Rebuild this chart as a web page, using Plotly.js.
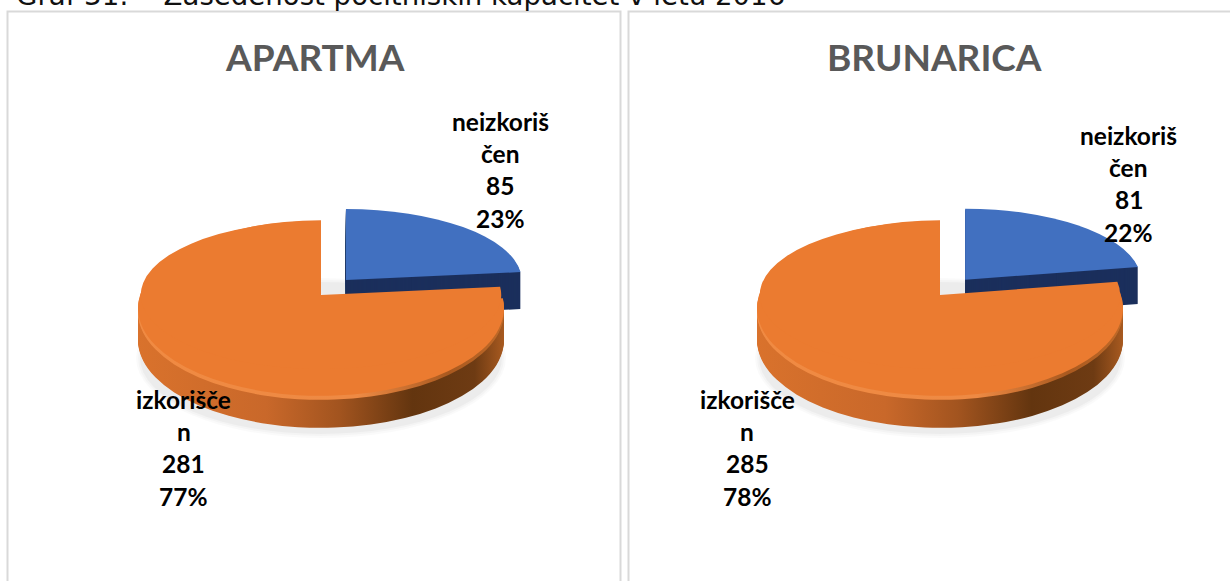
<!DOCTYPE html>
<html><head><meta charset="utf-8">
<script src="https://cdn.plot.ly/plotly-3.0.1.min.js"></script>
<style>html,body{margin:0;padding:0;background:#fff;overflow:hidden}#c{width:1230px;height:581px}</style>
</head><body><div id="c"></div>
<script>
// ---- data ----
const captionText = "Graf 31:    Zasedenost počitniških kapacitet v letu 2016";
const chartTitles = ["APARTMA", "BRUNARICA"];
const categories = ["neizkoriščen", "izkoriščen"];
const apartmaValues = [85, 281];
const brunaricaValues = [81, 285];
const apartmaLabels = [["neizkoriš","čen","85","23%"], ["izkorišče","n","281","77%"]];
const brunaricaLabels = [["neizkoriš","čen","81","22%"], ["izkorišče","n","285","78%"]];

// ---- layout constants (pixels) ----
const W = 1230, H = 581, SQUASH = 0.48, DEPTH = 32, BLUE_DEPTH = 37, R = 183;
const px = x => x / W, py = y => 1 - y / H;
const panels = [
  {x0:7.5, x1:620.5, cx:321, cy:308, titleX:315, blueDx:5, values:apartmaValues, labels:apartmaLabels,
   labelX:[500,183.5], labelY:[121.5,399.5]},
  {x0:628.5, x1:1240, cx:940, cy:308, titleX:934.5, blueDx:6, values:brunaricaValues, labels:brunaricaLabels,
   labelX:[1128.5,747.5], labelY:[135.5,399.5]}
];
const BLUE='#4170C0', ORANGE='#EB7B30', NAVY='#1B2F5C', TRANSP='rgba(0,0,0,0)';

const traces = [], meta = [];
panels.forEach(p => {
  const pull = 0.17;
  const r = R * (1 + pull);
  const domain = {x:[px(p.cx - r), px(p.cx + r)], y:[py(p.cy + r), py(p.cy - r)]};
  const base = {type:'pie', labels:categories, values:p.values, sort:false, direction:'clockwise',
    rotation:0, textinfo:'none', hoverinfo:'label+value+percent', showlegend:false, domain,
    pull:[pull,0]};
  for (let d = BLUE_DEPTH; d >= 0; d--) {
    traces.push(Object.assign({}, base, {marker:{colors:[d===0?BLUE:NAVY, TRANSP], line:{width:0}}}));
    meta.push({p, kind:'blue', d});
  }
  for (let d = DEPTH; d >= 0; d--) {
    traces.push(Object.assign({}, base, {marker:{colors:[TRANSP, d===0?ORANGE:'#B85F22'], line:{width:0}}}));
    meta.push({p, kind:'orange', d});
  }
  // perspective lifts the centre of the top face above the middle of the ellipse
  traces.push(Object.assign({}, base, {marker:{colors:[TRANSP, ORANGE], line:{width:0}}}));
  meta.push({p, kind:'lift', d:0});
});

const shapes = [], annotations = [];
panels.forEach((p, pi) => {
  shapes.push({type:'rect', xref:'paper', yref:'paper', x0:px(p.x0), x1:px(p.x1), y0:py(H+5), y1:py(11.5),
    line:{color:'#D9D9D9', width:2}, fillcolor:'#fff', layer:'below'});
  [[4,'rgba(0,0,0,0.02)'],[2,'rgba(0,0,0,0.025)'],[0,'rgba(0,0,0,0.03)']].forEach(([g,c]) => {
    shapes.push({type:'circle', xref:'paper', yref:'paper',
      x0:px(p.cx-R-g+2), x1:px(p.cx+R+g-2), y0:py(434+g), y1:py(282-g),
      line:{width:0}, fillcolor:c, layer:'below'});
  });
  annotations.push({xref:'paper', yref:'paper', x:px(p.titleX), y:py(57), text:chartTitles[pi],
    showarrow:false, xanchor:'center', yanchor:'middle',
    font:{family:'Lato', size:37, weight:700, color:'#595959'}});
  p.labels.forEach((lines, i) => lines.forEach((t, k) => {
    annotations.push({xref:'paper', yref:'paper', x:px(p.labelX[i]), y:py(p.labelY[i] + k*32.2), text:'<b>'+t+'</b>',
      showarrow:false, xanchor:'center', yanchor:'middle',
      font:{family:'Lato', size:24.5, color:'#000'}});
  }));
});
annotations.push({xref:'paper', yref:'paper', x:px(14), y:py(-5), text:captionText, showarrow:false,
  xanchor:'left', yanchor:'middle', font:{family:'DejaVu Sans', size:27.6, color:'#111'}});

Plotly.newPlot('c', traces, {
  width:W, height:H, margin:{l:0,r:0,t:0,b:0}, paper_bgcolor:'#fff', shapes, annotations
}, {displayModeBar:false}).then(gd => {
  const svg = gd.querySelector('.main-svg');
  const NS = 'http://www.w3.org/2000/svg';
  const defs = svg.querySelector('defs') || svg.insertBefore(document.createElementNS(NS,'defs'), svg.firstChild);
  const grad = (id, stops) => {
    const g = document.createElementNS(NS,'linearGradient');
    g.setAttribute('id', id);
    stops.forEach(([o,c]) => { const s = document.createElementNS(NS,'stop'); s.setAttribute('offset',o); s.setAttribute('stop-color',c); g.appendChild(s); });
    defs.appendChild(g);
  };
  grad('rimO', [[0,'#D9722C'],[0.35,'#C9682A'],[0.55,'#A2541F'],[0.75,'#63350F'],[0.92,'#6E3B13'],[1,'#A85A20']]);
  grad('rimH', [[0,'#F08A42'],[0.6,'#EE8A44'],[0.85,'#A9591F'],[1,'#C06A28']]);
  gd.querySelectorAll('.pielayer > .trace').forEach((g, i) => {
    const m = meta[i]; if (!m) return;
    const {cx, cy} = m.p;
    let t;
    if (m.kind === 'blue') {
      t = `translate(${cx+m.p.blueDx} ${cy-19+m.d}) scale(0.96 ${0.96*0.404}) translate(${-cx} ${-cy})`;
    } else if (m.kind === 'lift') {
      t = `translate(${cx} 295) scale(0.985 ${74/R}) translate(${-cx} ${-cy})`;
    } else {
      t = `translate(${cx} ${cy+m.d}) scale(1 ${SQUASH}) translate(${-cx} ${-cy})`;
    }
    g.setAttribute('transform', t);
    if (m.kind === 'orange' && m.d > 0) {
      const path = g.querySelectorAll('path.surface')[1];
      if (path) path.style.fill = m.d <= 4 ? 'url(#rimH)' : 'url(#rimO)';
    }
  });
});
</script></body></html>
